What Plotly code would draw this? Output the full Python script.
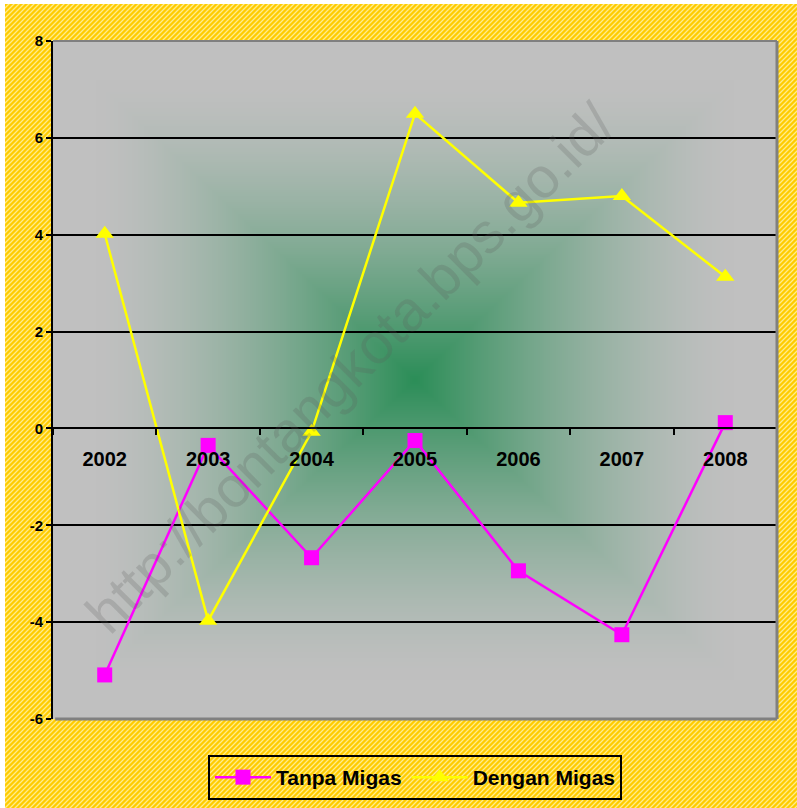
import base64
import struct
import zlib

import numpy as np
import plotly.graph_objects as go

# ---------------- data ----------------
years = ["2002", "2003", "2004", "2005", "2006", "2007", "2008"]
tanpa_migas = [-5.09, -0.35, -2.67, -0.25, -2.94, -4.26, 0.12]
dengan_migas = [4.02, -3.97, -0.07, 6.50, 4.66, 4.80, 3.13]
y_ticks = [-6, -4, -2, 0, 2, 4, 6, 8]
y_tick_labels = ["-6", "-4", "-2", "0", "2", "4", "6", "8"]
watermark = "http://bontangkota.bps.go.id/"

# ---------------- layout geometry ----------------
W, H = 797, 808
ML, MR, MT, MB = 53, 20, 41, 89
PW, PH = W - ML - MR, H - MT - MB


def png_uri(arr):
    arr = np.ascontiguousarray(arr.astype(np.uint8))
    h, w, _ = arr.shape
    raw = b"".join(b"\x00" + arr[r].tobytes() for r in range(h))

    def chunk(tag, data):
        return (struct.pack(">I", len(data)) + tag + data
                + struct.pack(">I", zlib.crc32(tag + data) & 0xFFFFFFFF))

    png = (b"\x89PNG\r\n\x1a\n"
           + chunk(b"IHDR", struct.pack(">IIBBBBB", w, h, 8, 2, 0, 0, 0))
           + chunk(b"IDAT", zlib.compress(raw, 9))
           + chunk(b"IEND", b""))
    return "data:image/png;base64," + base64.b64encode(png).decode()


# hatched yellow background (white strip at top/left like the original)
HX0, HY0 = 5, 4
hw, hh = W - HX0, H - HY0
yy, xx = np.mgrid[0:hh, 0:hw]
k = (xx + yy) % 5
pal = np.array([[255, 204, 0], [255, 204, 0], [255, 218, 60],
                [255, 236, 140], [255, 218, 60]], dtype=float)
hatch = pal[k]

# gradient plot background (from centre)
gw, gh = PW // 2, PH // 2
gy, gx = np.mgrid[0:gh, 0:gw]
tx = np.abs((gx + 0.5) / gw * 2 - 1)
ty = np.abs((gy + 0.5) / gh * 2 - 1)
t = np.maximum(tx, ty)
u = np.clip(t / 0.88, 0, 1)
f = (1 - (1 - u) ** 1.5)[..., None]
green = np.array([44, 142, 88], dtype=float)
gray = np.array([192, 192, 192], dtype=float)
grad = green + (gray - green) * f

fig = go.Figure()

fig.add_trace(go.Scatter(
    x=years, y=tanpa_migas, name="Tanpa Migas", mode="lines+markers",
    line=dict(color="#FF00FF", width=2.5),
    marker=dict(symbol="square", size=15, color="#FF00FF"),
))
fig.add_trace(go.Scatter(
    x=years, y=dengan_migas, name="Dengan Migas", mode="lines+markers",
    line=dict(color="#FFFF00", width=2.5),
    marker=dict(symbol="triangle-up", size=16, color="#FFFF00"),
))

font_family = "Liberation Sans, Arial, sans-serif"
zero_pos = (0 - y_ticks[0]) / (y_ticks[-1] - y_ticks[0])

fig.update_layout(
    width=W, height=H,
    margin=dict(l=ML, r=MR, t=MT, b=MB, autoexpand=False),
    paper_bgcolor="white",
    plot_bgcolor="rgba(0,0,0,0)",
    font=dict(family=font_family, color="black"),
    showlegend=True,
    legend=dict(
        orientation="h", x=0.5, xanchor="center", y=(0 - 36) / PH, yanchor="top",
        bordercolor="black", borderwidth=2, bgcolor="rgba(0,0,0,0)",
        font=dict(size=21, weight="bold", family=font_family),
        itemwidth=56,
    ),
    xaxis=dict(
        type="category", range=[-0.5, 6.5], anchor="free", position=zero_pos,
        showline=True, linecolor="black", linewidth=2,
        ticks="outside", tickson="boundaries", ticklen=6, tickwidth=2, tickcolor="black",
        tickfont=dict(size=20, weight="bold", family=font_family),
        ticklabelstandoff=13, automargin=False,
        showgrid=False, zeroline=False, fixedrange=True,
    ),
    yaxis=dict(
        range=[y_ticks[0], y_ticks[-1]], tickvals=y_ticks, ticktext=y_tick_labels,
        showline=True, linecolor="black", linewidth=2,
        ticks="outside", ticklen=5, tickwidth=2, tickcolor="black",
        tickfont=dict(size=15, weight="bold", family=font_family),
        automargin=False,
        showgrid=True, gridcolor="black", gridwidth=2,
        zeroline=False, fixedrange=True,
    ),
    images=[
        dict(source=png_uri(hatch), xref="paper", yref="paper",
             x=(HX0 - ML) / PW, y=(H - MB - HY0) / PH,
             sizex=hw / PW, sizey=hh / PH, xanchor="left", yanchor="top",
             sizing="stretch", layer="below"),
        dict(source=png_uri(grad), xref="paper", yref="paper",
             x=0, y=1, sizex=1, sizey=1, xanchor="left", yanchor="top",
             sizing="stretch", layer="below"),
    ],
    shapes=[
        dict(type="line", xref="paper", yref="paper", x0=0, x1=1, y0=1, y1=1,
             line=dict(color="#808080", width=2), layer="above"),
        dict(type="line", xref="paper", yref="paper", x0=1, x1=1, y0=0, y1=1,
             line=dict(color="#808080", width=3), layer="above"),
        dict(type="line", xref="paper", yref="paper", x0=0.003, x1=1, y0=0, y1=0,
             line=dict(color="#808080", width=3), layer="above"),
    ],
    annotations=[
        dict(text=watermark, xref="paper", yref="paper", x=0.41, y=0.518,
             showarrow=False, textangle=-45,
             font=dict(size=57, color="rgba(90,90,90,0.22)", family=font_family)),
    ],
)

page_fix = (
    "document.documentElement.style.margin='0px';"
    "document.body.style.margin='0px';"
    "document.documentElement.style.overflow='hidden';"
    "document.body.style.overflow='hidden';"
    "document.body.style.lineHeight='0';"
    "document.body.style.fontSize='0';"
    "document.querySelectorAll('.svg-container').forEach(function(e){e.style.display='block';});"
)

fig.write_html(
    "out.html",
    config={"displayModeBar": False},
    post_script=page_fix,
)
